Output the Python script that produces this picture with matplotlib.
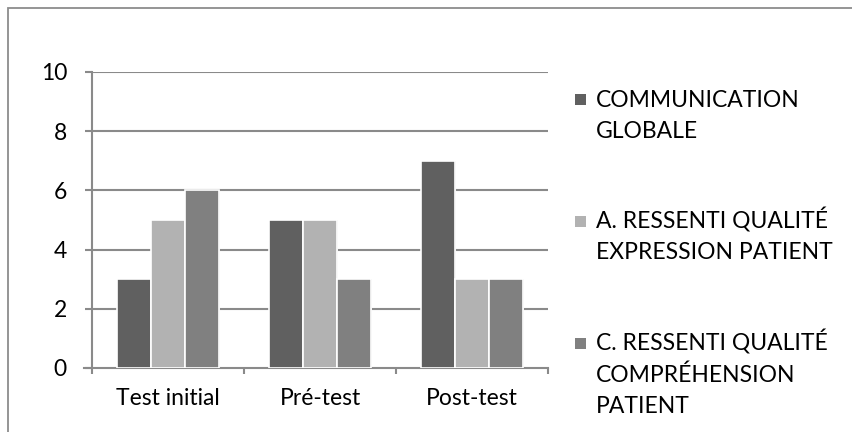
import matplotlib
matplotlib.use("Agg")
import matplotlib.pyplot as plt
import matplotlib.transforms as mtransforms
import numpy as np
from matplotlib.patches import Rectangle

categories = ["Test initial", "Pré-test", "Post-test"]
series_names = [
    "COMMUNICATION\nGLOBALE",
    "A. RESSENTI QUALITÉ\nEXPRESSION PATIENT",
    "C. RESSENTI QUALITÉ\nCOMPRÉHENSION\nPATIENT",
]
communication = [3, 5, 7]
expression = [5, 5, 3]
comprehension = [6, 3, 3]
colors = ["#606060", "#b2b2b2", "#808080"]
y_ticks = [0, 2, 4, 6, 8, 10]

plt.rcParams["font.family"] = ["Lato", "DejaVu Sans"]
FS = 16.5
W, H = 853, 432
fig = plt.figure(figsize=(W / 100, H / 100), dpi=100)

# outer chart frame
fig.patches.append(Rectangle((8 / W, -0.1), 1.2, 1 - 8 / H + 0.1, transform=fig.transFigure,
                             fill=False, edgecolor="#8c8c8c", linewidth=1.3))

ax = fig.add_axes([92 / W, 1 - 368 / H, (548 - 92) / W, (368 - 72) / H])
ax.set_xlim(0, 3)
ax.set_ylim(0, 10)

grid_c = "#8a8a8a"
for y in y_ticks[1:]:
    ax.axhline(y, color=grid_c, linewidth=1.5, zorder=1)

values = [communication, expression, comprehension]
w = 1 / 4.5
x = np.arange(3) + 0.5
for i, (vals, c) in enumerate(zip(values, colors)):
    xs = x + (i - 1) * w
    # soft shadow
    ax.bar(xs + 0.008, vals, width=w, color="#d8d8d8", edgecolor="none", zorder=2, alpha=0.8)
    ax.bar(xs, vals, width=w, color=c, edgecolor="white", linewidth=1.2, zorder=3)

for s in ["top", "right"]:
    ax.spines[s].set_visible(False)
for s in ["left", "bottom"]:
    ax.spines[s].set_color(grid_c)
    ax.spines[s].set_linewidth(1.5)
ax.spines["bottom"].set_bounds(-0.05, 3)

ax.set_yticks(y_ticks)
ax.set_yticklabels([str(v) for v in y_ticks], fontsize=FS)
ax.tick_params(axis="y", length=5, width=1.5, color=grid_c, pad=13)
ax.set_xticks([0, 1, 2, 3])
ax.set_xticklabels([])
ax.tick_params(axis="x", length=4.5, width=1.5, color=grid_c)

# category labels, baseline placed below the axis
blend = mtransforms.blended_transform_factory(ax.transData, fig.transFigure)
for xi, cat in zip(x, categories):
    ax.text(xi, 1 - 405 / H, cat, ha="center", va="baseline", fontsize=FS,
            transform=blend)

# legend
baselines = [[107, 138], [229, 259], [351, 382, 413]]
for name, c, bl in zip(series_names, colors, baselines):
    fig.patches.append(Rectangle((575 / W, 1 - (bl[0] - 2) / H), 11 / W, 11 / H,
                                 transform=fig.transFigure, facecolor=c, edgecolor="none"))
    for line, yb in zip(name.split("\n"), bl):
        fig.text(596 / W, 1 - yb / H, line, fontsize=FS, ha="left", va="baseline")

fig.savefig("out.png", dpi=100, facecolor="white")
